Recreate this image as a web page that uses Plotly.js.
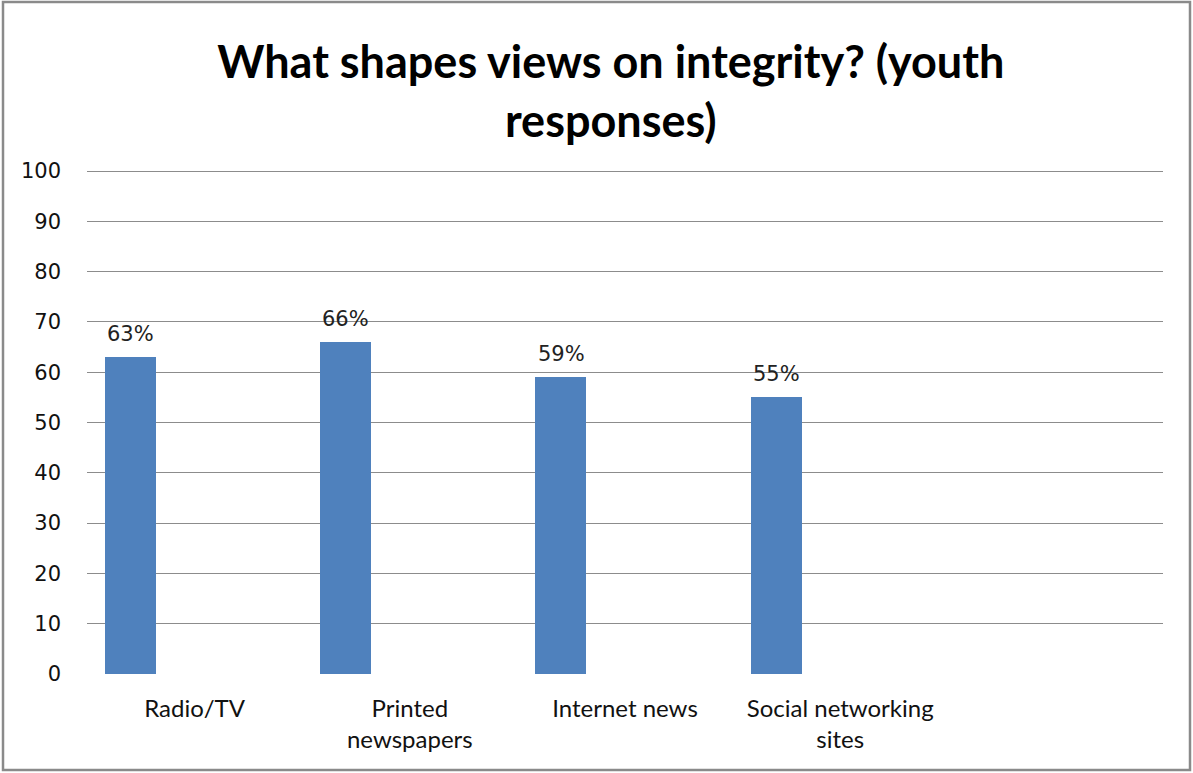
<!DOCTYPE html>
<html>
<head>
<meta charset="utf-8">
<script src="https://cdn.plot.ly/plotly-3.0.1.min.js"></script>
<style>
html,body{margin:0;padding:0;background:#fff;}
#chart{width:1193px;height:773px;}
</style>
</head>
<body>
<div id="chart"></div>
<script>
const categories = ["Radio/TV", "Printed<br>newspapers", "Internet news", "Social networking<br>sites", " "];
const values = [63, 66, 59, 55, null];
const labels = ["63%", "66%", "59%", "55%", ""];
const yTicks = [0, 10, 20, 30, 40, 50, 60, 70, 80, 90, 100];

const trace = {
  type: "bar",
  x: categories,
  y: values,
  width: 0.237,
  offset: -0.416,
  marker: {color: "#4F81BD", line: {width: 0}},
  hoverinfo: "skip"
};

const annotations = categories.map((c, i) => ({
  x: c, y: values[i] === null ? 0 : values[i],
  xref: "x", yref: "y",
  text: labels[i],
  showarrow: false,
  xanchor: "center", yanchor: "bottom",
  xshift: -64, yshift: 9,
  font: {family: "DejaVu Sans", size: 21, color: "#222"}
})).filter(a => a.text !== "");

const plotH = 508;
const layout = {
  width: 1193, height: 773,
  margin: {l: 87, r: 30, t: 166, b: 99, pad: 0},
  paper_bgcolor: "#fff", plot_bgcolor: "#fff",
  showlegend: false,
  bargap: 0,
  title: {
    text: "What shapes views on integrity? (youth<br>responses)",
    font: {family: "Lato", size: 45, color: "#000", weight: "bold"},
    x: 0.512, xanchor: "center",
    yref: "container",
    y: 1 - 78/773, yanchor: "top"
  },
  xaxis: {
    type: "category",
    categoryorder: "array", categoryarray: categories,
    range: [-0.5, 4.5],
    showgrid: false, zeroline: false,
    showline: false, ticks: "",
    ticklabelstandoff: 18,
    tickfont: {family: "Lato", size: 24, color: "#111"},
    fixedrange: true
  },
  yaxis: {
    range: [0, 101],
    tickvals: yTicks,
    ticktext: yTicks.map(String),
    showgrid: true, gridcolor: "#8c8c8c", gridwidth: 1,
    zeroline: false, showline: false, ticks: "",
    ticklabelstandoff: 25,
    tickfont: {family: "DejaVu Sans", size: 21, color: "#111"},
    fixedrange: true
  },
  annotations: annotations,
  shapes: [{
    type: "rect", xref: "paper", yref: "paper",
    x0: -84/1076, x1: (1190-87)/1076,
    y0: (674-770)/plotH, y1: (674-2)/plotH,
    line: {color: "#8a8a8a", width: 2.5},
    fillcolor: "rgba(0,0,0,0)", layer: "above"
  }]
};

Plotly.newPlot("chart", [trace], layout, {displayModeBar: false, staticPlot: true});
</script>
</body>
</html>
